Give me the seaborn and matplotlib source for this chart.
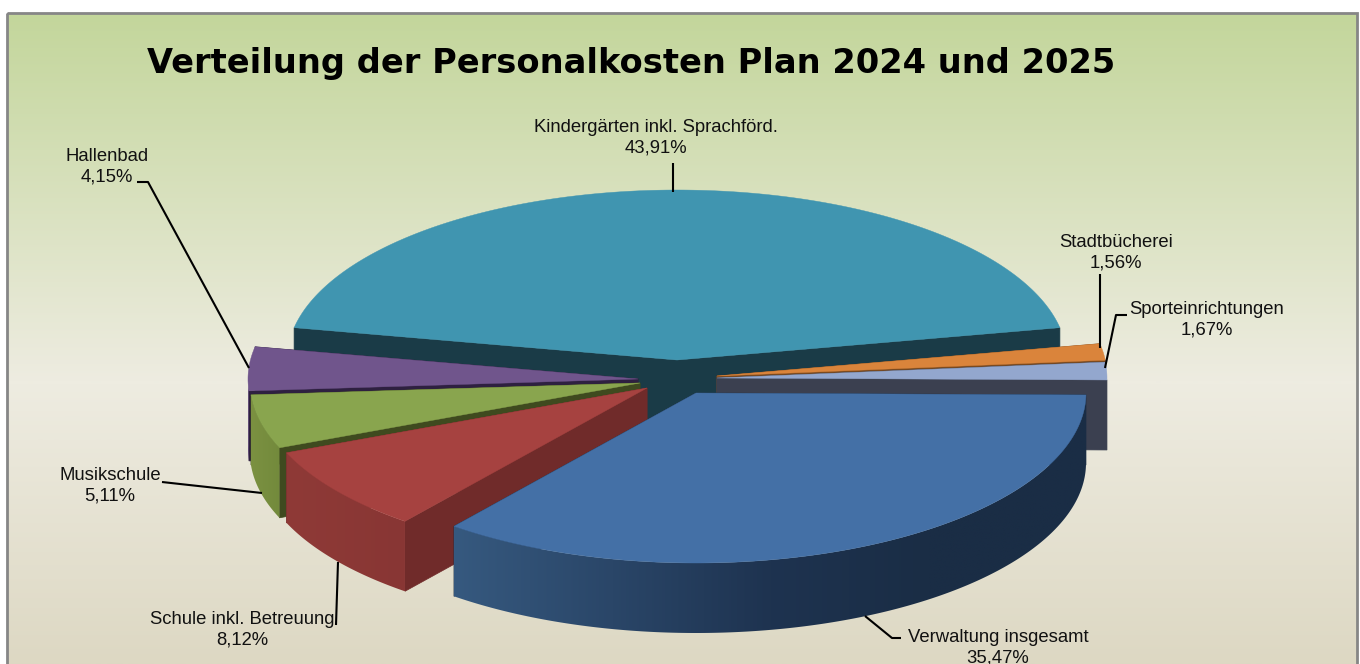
import numpy as np
import matplotlib
matplotlib.use('Agg')
import matplotlib.pyplot as plt
import seaborn as sns
from matplotlib.patches import Polygon, Rectangle

# data
names = ['Kindergärten inkl. Sprachförd.', 'Stadtbücherei', 'Sporteinrichtungen',
         'Verwaltung insgesamt', 'Schule inkl. Betreuung', 'Musikschule', 'Hallenbad']
shares = [43.91, 1.56, 1.67, 35.47, 8.12, 5.11, 4.15]
title = 'Verteilung der Personalkosten Plan 2024 und 2025'

# look of each slice: top face, cut face, rim colours from left to right
top_colors = ['#4095b0', '#da843b', '#93a7ce', '#4470a6', '#a64240', '#89a54e', '#70558c']
cut_colors = ['#1a3b47', '#7a4a20', '#3b4050', '#1a2d45', '#702b2a', '#3f4a1f', '#2e2040']
rim_colors = [['#1a3b47', '#1a3b47'], ['#7a4a20', '#7a4a20'], ['#3b4050', '#3b4050'],
              ['#36597f', '#2a4668', '#1e3350', '#1a2d45', '#1a2d45'],
              ['#8f3a37', '#883634'], ['#7b9141', '#738a3c'], ['#5a4470', '#5a4470']]
# pulled-out slice centres in pixels
centres = [(677, 360), (717, 376), (717, 378), (696, 393), (647, 388), (640, 383), (638, 379)]
# drawing layer of each slice, back to front
layers = [2, 3, 4, 8, 7, 6, 5]
RX, RY, DEPTH = 390, 170, 70
START = 90 + shares[0] * 3.6 / 2


def rim_xy(cx, cy, ang):
    rad = np.radians(ang)
    return cx + RX * np.cos(rad), cy - RY * np.sin(rad)


def draw_slice(ax, i, a0, a1):
    cx, cy = centres[i]
    z = layers[i]
    angs = np.linspace(a0, a1, 240)
    xs, ys = rim_xy(cx, cy, angs)
    # cut faces, only seen where they hang below the top face
    for a in (a0, a1):
        x, y = rim_xy(cx, cy, a)
        ax.fill([cx, x, x, cx], [cy, y, y + DEPTH, cy + DEPTH],
                color=cut_colors[i], lw=0.5, zorder=z)
    # rim strip, shaded across x
    front = np.sin(np.radians(angs)) <= 0.02
    if front.sum() > 1:
        fx, fy = xs[front], ys[front]
        poly = Polygon(np.c_[np.r_[fx, fx[::-1]], np.r_[fy, fy[::-1] + DEPTH]],
                       closed=True, transform=ax.transData, fc='none', ec='none')
        ax.add_patch(poly)
        ramp = np.array(sns.blend_palette(rim_colors[i], 256))[None, :, :]
        im = ax.imshow(ramp, extent=(fx.min(), fx.max(), fy.max() + DEPTH, fy.min()),
                       aspect='auto', zorder=z, interpolation='bilinear')
        im.set_clip_path(poly)
    ax.fill(np.r_[cx, xs], np.r_[cy, ys], color=top_colors[i], lw=0.3, zorder=z)


sns.set_theme(style='white')
plt.rcParams['font.family'] = ['Liberation Sans', 'DejaVu Sans']

fig = plt.figure(figsize=(13.6, 6.64), dpi=100)
ax = fig.add_axes([0, 0, 1, 1])
ax.axis('off')

# background gradient
n_top = 370
grad = sns.blend_palette(['#c3d69b', '#eeece1'], n_top) + sns.blend_palette(['#eeece1', '#ddd8c3'], 664 - 12 - n_top)
grad_img = np.array(grad)[:, None, :]
ax.imshow(grad_img, extent=(7, 1357, 664, 13), aspect='auto', zorder=0)
ax.add_patch(Rectangle((6.5, 12.5), 1350.5, 670, fill=False, ec='#868686', lw=2, zorder=1))

# slices, clockwise from the left end of the first one
ang = START
for i, share in enumerate(shares):
    sweep = share * 3.6
    draw_slice(ax, i, ang, ang - sweep)
    ang -= sweep

ax.text(631, 63, title, fontsize=24.2, fontweight='bold', color='black', family='DejaVu Sans',
        ha='center', va='center', zorder=20)

# label centres and leader lines
label_pos = [(656, 138), (1116, 253), (1207, 320), (998, 648), (242, 630), (110, 486), (107, 167)]
leaders = [[(673, 163), (673, 192)],
           [(1100, 274), (1100, 348)],
           [(1127, 315), (1116, 315), (1105, 368)],
           [(865, 616), (892, 638), (901, 638)],
           [(336, 625), (338, 562)],
           [(162, 482), (180, 484), (262, 493)],
           [(137, 182), (148, 182), (249, 368)]]
for name, share, (lx, ly), pts in zip(names, shares, label_pos, leaders):
    label = name + '\n' + f'{share:.2f}'.replace('.', ',') + '%'
    ax.text(lx, ly, label, fontsize=13.3, color='#111111', ha='center', va='center',
            linespacing=1.3, zorder=20)
    px, py = zip(*pts)
    ax.plot(px, py, color='black', lw=1.5, zorder=19, solid_capstyle='butt')

ax.set_xlim(0, 1360)
ax.set_ylim(664, 0)
fig.savefig('out.png', dpi=100, facecolor='white')
